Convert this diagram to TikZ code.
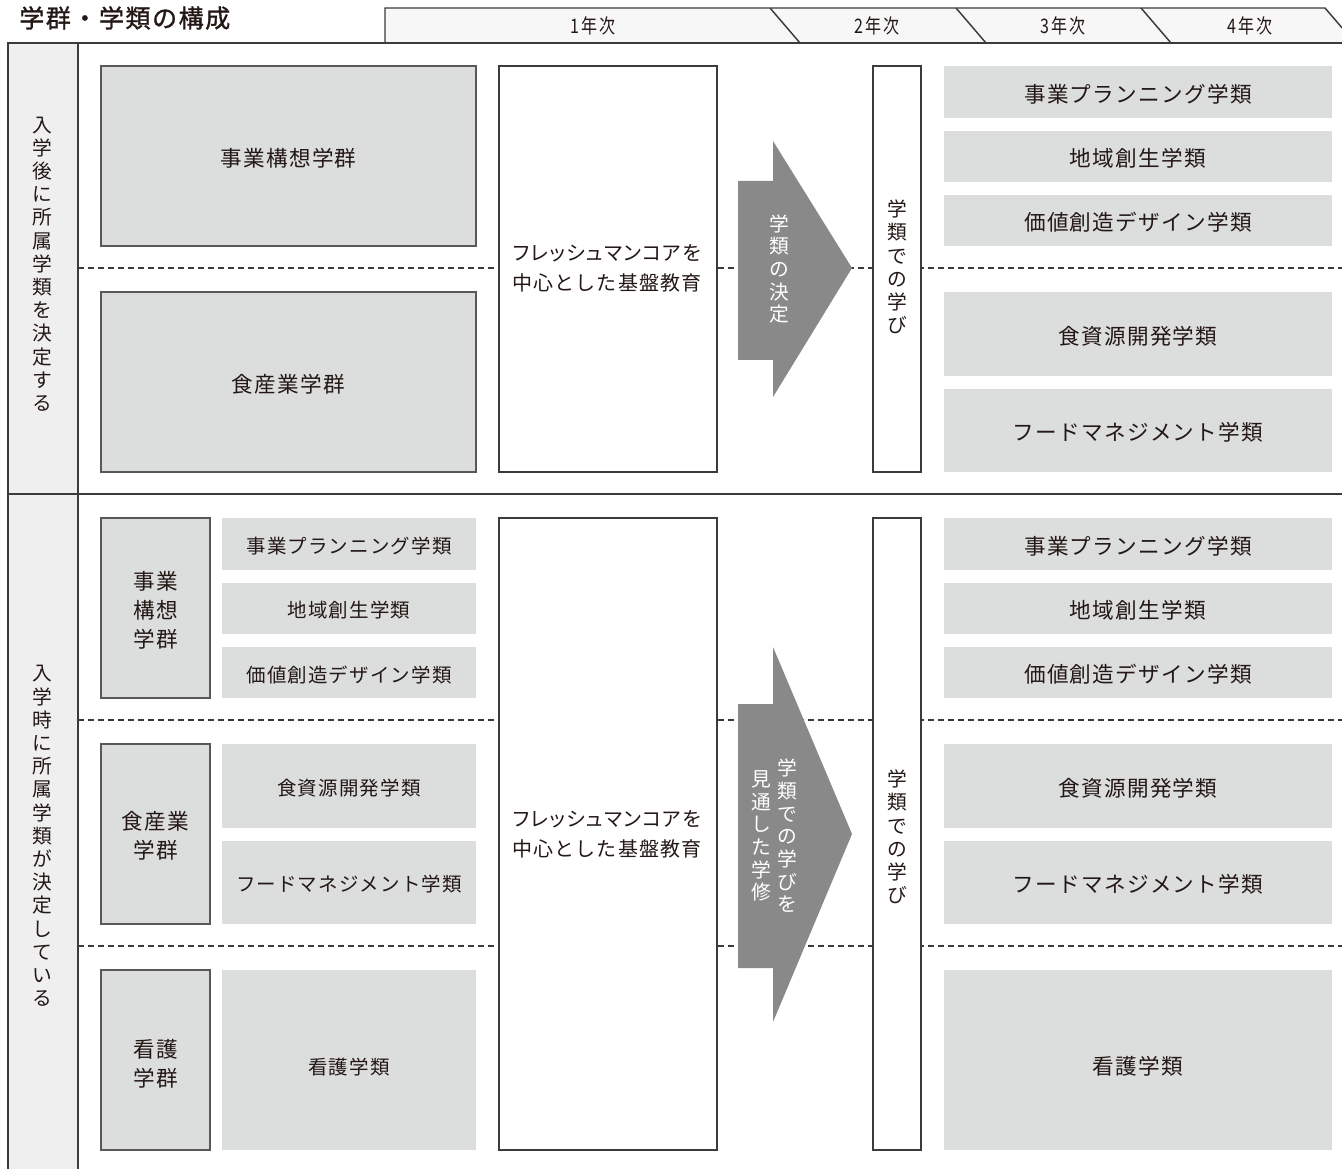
\documentclass[tikz,border=0pt]{standalone}
\usepackage{fontspec}
\setmainfont{Noto Sans CJK JP}
\newfontfamily\jpfont{Noto Sans CJK JP}[LetterSpace=6]
\newfontfamily\ttlfont{Noto Sans CJK JP}[LetterSpace=6,FakeBold=1.2]
\newfontfamily\yrfont{Noto Sans CJK JP}[FakeStretch=0.8,LetterSpace=10]
\newfontfamily\vfontfam{Noto Sans CJK JP}
\usetikzlibrary{fit}
\definecolor{txt}{HTML}{231815}
\definecolor{ln}{HTML}{3E3A39}
\definecolor{boxg}{HTML}{DCDDDD}
\definecolor{colg}{HTML}{EFEFEF}
\definecolor{hdrg}{HTML}{F7F7F7}
\definecolor{arrg}{HTML}{898989}
\definecolor{bordg}{HTML}{595757}
\newcommand\lblfont{\jpfont\fontsize{16.2}{21.75}\selectfont}
\newcommand\midfont{\jpfont\fontsize{14.6}{21.75}\selectfont}
\newcommand\corefont{\jpfont\fontsize{15}{22.5}\selectfont}
\newcommand\vfont{\vfontfam\fontsize{14.8}{17.4}\selectfont}
\newcommand\vfontb{\vfontfam\fontsize{14.8}{17}\selectfont}
\tikzset{
  frame/.style={draw=ln, line width=1.1pt},
  dashln/.style={draw=ln, line width=0.8pt, dash pattern=on 4.5pt off 3pt},
  grpbox/.style={fill=boxg, draw=bordg, line width=1.1pt, inner sep=0pt, font=\lblfont, text=txt, align=center},
  subbox/.style={fill=boxg, draw=none, inner sep=0pt, font=\lblfont, text=txt, align=center},
  wbox/.style={fill=white, draw=ln, line width=1.1pt, inner sep=0pt, font=\corefont, text=txt, align=center},
  vtxt/.style={align=center, inner sep=0pt, text=txt, font=\vfont},
  atxt/.style={align=center, inner sep=0pt, text=white, font=\vfontb},
  yr/.style={inner sep=0pt, text=txt, font=\yrfont\fontsize{15}{17}\selectfont},
  arrowshape/.style={fill=arrg, draw=none},
  lbl/.style={text=txt, font=\lblfont, align=center},
  mlbl/.style={text=txt, font=\midfont, align=center}
}
\begin{document}
\begin{tikzpicture}[x=0.75pt,y=-0.75pt]
\useasboundingbox (0,0) rectangle (1342,1169);
% title
\node[anchor=west, inner sep=0pt, text=txt, font=\ttlfont\fontsize{18.8}{20}\selectfont] (title) at (19,18) {学群・学類の構成};
% header
\fill[hdrg] (385,8) -- (1325,8) -- (1342,27.8) -- (1342,43) -- (385,43) -- cycle;
\draw[frame] (385,43) -- (385,8) -- (1325,8) -- (1342,27.8);
\draw[frame] (770,8) -- (800,43);
\draw[frame] (956,8) -- (986,43);
\draw[frame] (1141,8) -- (1171,43);
\node[yr] (y1) at (593,26) {1年次};
\node[yr] (y2) at (877,26) {2年次};
\node[yr] (y3) at (1063,26) {3年次};
\node[yr] (y4) at (1250,26) {4年次};
% frame
\fill[colg] (8,43) rectangle (78,1169);
\draw[frame] (8,1169) -- (8,43) -- (1342,43);
\draw[frame] (78,43) -- (78,1169);
\draw[frame] (8,494) -- (1342,494);
% dashed separators
\draw[dashln] (78,268) -- (1342,268);
\draw[dashln] (78,720) -- (1342,720);
\draw[dashln] (78,946) -- (1342,946);
% left labels
\node[vtxt] (lab1) at (42,264) {入\\学\\後\\に\\所\\属\\学\\類\\を\\決\\定\\す\\る};
\node[vtxt] (lab2) at (42,836) {入\\学\\時\\に\\所\\属\\学\\類\\が\\決\\定\\し\\て\\い\\る};
% ===== top section =====
\node[grpbox, fit={(101,66) (476,246)}] (g1) {};
\node[lbl] at ([yshift=-1.5]g1.center) {事業構想学群};
\node[grpbox, fit={(101,292) (476,472)}] (g2) {};
\node[lbl] at ([yshift=-1.5]g2.center) {食産業学群};
\node[wbox, fit={(499,66) (717,472)}] (c1) {};
\node[text=txt, font=\corefont, align=center] (c1t) at (607,268) {{\addfontfeature{RawFeature=+palt}フレッシュマンコアを}\\中心とした基盤教育};
\fill[arrowshape] (738,181) -- (773,181) -- (773,141) -- (852,268) -- (773,397) -- (773,360) -- (738,360) -- cycle;
\node[atxt] (a1t) at (779,269) {学\\類\\の\\決\\定};
\node[wbox, fit={(873,66) (921,472)}] (l1) {};
\node[vtxt] (l1t) at (897,267) {学\\類\\で\\の\\学\\び};
\node[subbox, fit={(944,66) (1332,118)}] (r1) {};
\node[lbl] at ([yshift=-1.5]r1.center) {事業プランニング学類};
\node[subbox, fit={(944,131) (1332,182)}] (r2) {};
\node[lbl] at ([yshift=-1.5]r2.center) {地域創生学類};
\node[subbox, fit={(944,195) (1332,246)}] (r3) {};
\node[lbl] at ([yshift=-1.5]r3.center) {価値創造デザイン学類};
\node[subbox, fit={(944,292) (1332,376)}] (r4) {};
\node[lbl] at ([yshift=-1.5]r4.center) {食資源開発学類};
\node[subbox, fit={(944,389) (1332,472)}] (r5) {};
\node[lbl] at ([yshift=-1.5]r5.center) {フードマネジメント学類};
% ===== bottom section =====
\node[grpbox, fit={(101,518) (210,698)}] (h1) {};
\node[lbl] at ([yshift=-1.5]h1.center) {事業\\構想\\学群};
\node[grpbox, fit={(101,744) (210,924)}] (h2) {};
\node[lbl] at ([yshift=-1.5]h2.center) {食産業\\学群};
\node[grpbox, fit={(101,970) (210,1150)}] (h3) {};
\node[lbl] at ([yshift=-2.5]h3.center) {看護\\学群};
\node[subbox, fit={(222,518) (476,570)}] (m1) {};
\node[mlbl] at ([yshift=-1.5]m1.center) {事業プランニング学類};
\node[subbox, fit={(222,583) (476,634)}] (m2) {};
\node[mlbl] at ([yshift=-1.5]m2.center) {地域創生学類};
\node[subbox, fit={(222,647) (476,698)}] (m3) {};
\node[mlbl] at ([yshift=-1.5]m3.center) {価値創造デザイン学類};
\node[subbox, fit={(222,744) (476,828)}] (m4) {};
\node[mlbl] at ([yshift=-1.5]m4.center) {食資源開発学類};
\node[subbox, fit={(222,841) (476,924)}] (m5) {};
\node[mlbl] at ([yshift=-1.5]m5.center) {フードマネジメント学類};
\node[subbox, fit={(222,970) (476,1150)}] (m6) {};
\node[mlbl] at ([yshift=-5]m6.center) {看護学類};
\node[wbox, fit={(499,518) (717,1150)}] (c2) {};
\node[text=txt, font=\corefont, align=center] (c2t) at (607,834) {{\addfontfeature{RawFeature=+palt}フレッシュマンコアを}\\中心とした基盤教育};
\fill[arrowshape] (738,704) -- (773,704) -- (773,647) -- (852,834) -- (773,1022) -- (773,968) -- (738,968) -- cycle;
\node[atxt] (a2r) at (787,836) {学\\類\\で\\の\\学\\び\\を};
\node[atxt] (a2l) at (761,836) {見\\通\\し\\た\\学\\修};
\node[wbox, fit={(873,518) (921,1150)}] (l2) {};
\node[vtxt] (l2t) at (897,837) {学\\類\\で\\の\\学\\び};
\node[subbox, fit={(944,518) (1332,570)}] (s1) {};
\node[lbl] at ([yshift=-1.5]s1.center) {事業プランニング学類};
\node[subbox, fit={(944,583) (1332,634)}] (s2) {};
\node[lbl] at ([yshift=-1.5]s2.center) {地域創生学類};
\node[subbox, fit={(944,647) (1332,698)}] (s3) {};
\node[lbl] at ([yshift=-1.5]s3.center) {価値創造デザイン学類};
\node[subbox, fit={(944,744) (1332,828)}] (s4) {};
\node[lbl] at ([yshift=-1.5]s4.center) {食資源開発学類};
\node[subbox, fit={(944,841) (1332,924)}] (s5) {};
\node[lbl] at ([yshift=-1.5]s5.center) {フードマネジメント学類};
\node[subbox, fit={(944,970) (1332,1150)}] (s6) {};
\node[lbl] at ([yshift=-5]s6.center) {看護学類};
\end{tikzpicture}
\end{document}
